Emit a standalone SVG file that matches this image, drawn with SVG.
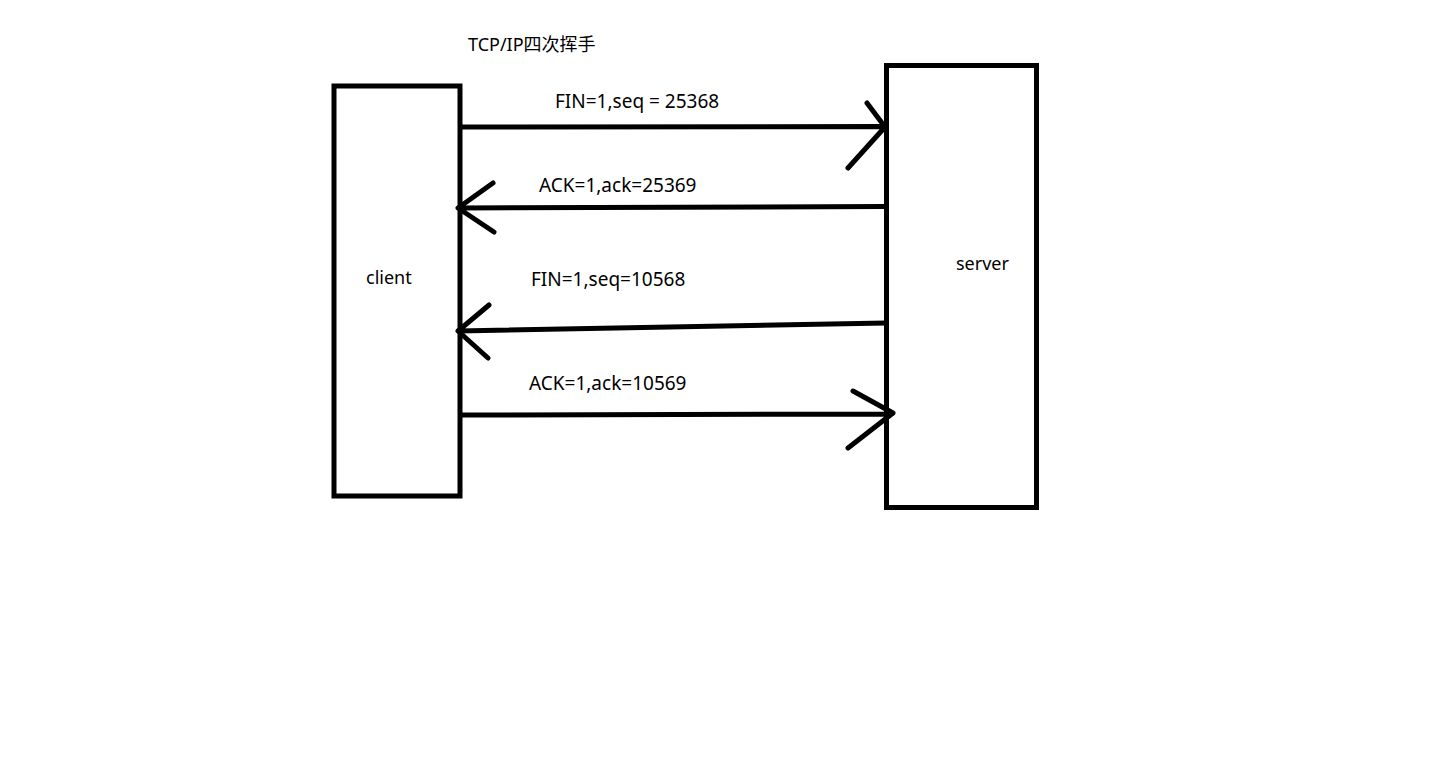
<svg xmlns="http://www.w3.org/2000/svg" width="1430" height="759" viewBox="0 0 1430 759">
<style>
.box{fill:none;stroke:#000;stroke-width:5}
.ln{fill:none;stroke:#000;stroke-width:5;stroke-linecap:round;stroke-linejoin:round}
text{font-family:"Noto Sans","Noto Sans CJK SC",sans-serif;font-size:19px;fill:#000}
.t{font-size:18px}
</style>
<rect width="1430" height="759" fill="#fff"/>
<text class="t" x="468" y="51">TCP/IP四次挥手</text>
<g id="client">
<rect class="box" x="334" y="86" width="126" height="410"/>
<text class="t" x="366" y="284">client</text>
</g>
<g id="server">
<rect class="box" x="886.5" y="65.5" width="150" height="442"/>
<text class="t" x="956" y="270">server</text>
</g>
<g id="connectors">
<path class="ln" d="M461 127 L886 126.5 M867 103 L885 127 L848 168"/>
<text x="555" y="108">FIN=1,seq = 25368</text>
<path class="ln" d="M886 206.5 L458 208 M493 183 L458 208 L494 232"/>
<text x="539" y="192">ACK=1,ack=25369</text>
<path class="ln" d="M886 323 L458 331 M489 305 L458 331 L488 358"/>
<text x="531" y="286">FIN=1,seq=10568</text>
<path class="ln" d="M461 415 L892 414 M853 391 L893 413 L848 448"/>
<text x="529" y="390">ACK=1,ack=10569</text>
</g>
</svg>
